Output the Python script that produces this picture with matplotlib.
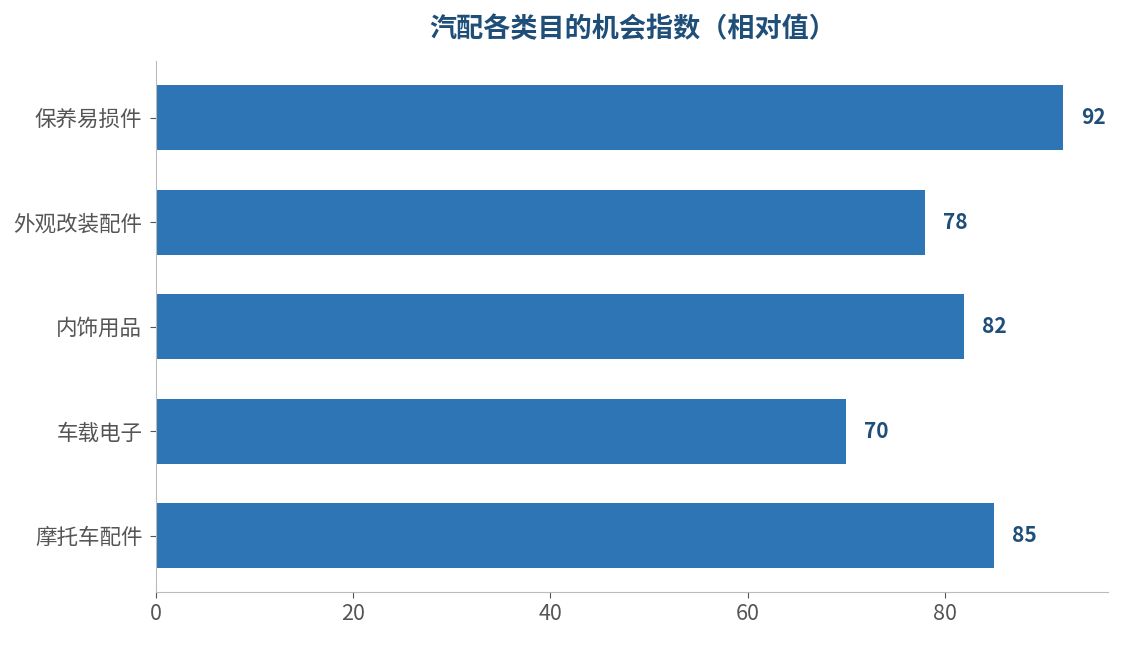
import matplotlib
matplotlib.use("Agg")
import matplotlib.pyplot as plt

plt.rcParams['font.family'] = ['Noto Sans CJK SC', 'DejaVu Sans']

categories = ['摩托车配件', '车载电子', '内饰用品', '外观改装配件', '保养易损件']
values = [85, 70, 82, 78, 92]

bar_color = '#2E75B6'
dark_blue = '#1F4E79'

fig, ax = plt.subplots(figsize=(11.24, 6.45), dpi=100)
fig.subplots_adjust(left=0.139, right=0.986, top=0.905, bottom=0.082)

bars = ax.barh(categories, values, height=0.62, color=bar_color)

for b, v in zip(bars, values):
    ax.text(b.get_width() + 1.8, b.get_y() + b.get_height() / 2, str(v),
            va='center', ha='left', fontsize=15, fontweight='bold', color=dark_blue)

ax.set_xlim(0, max(values) * 1.05)
ax.set_title('汽配各类目的机会指数（相对值）', fontsize=19.5, fontweight='bold',
             color=dark_blue, pad=17)

for side in ['top', 'right']:
    ax.spines[side].set_visible(False)
for side in ['left', 'bottom']:
    ax.spines[side].set_color('#BBBBBB')

ax.tick_params(axis='both', colors='#555555', labelsize=15.5, length=4)
ax.tick_params(axis='y', pad=6)

fig.savefig('out.png', dpi=100)
